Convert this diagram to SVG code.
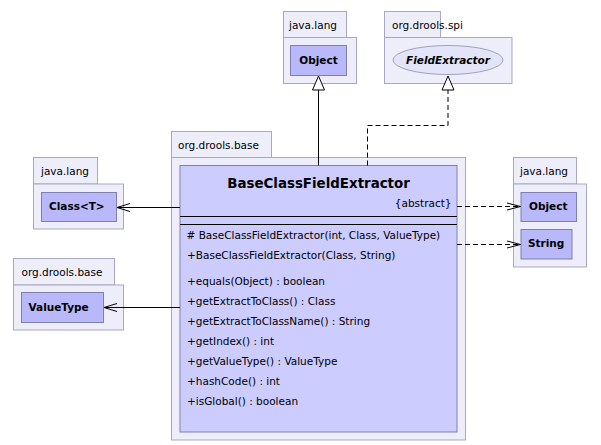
<svg xmlns="http://www.w3.org/2000/svg" width="601" height="445" viewBox="0 0 601 445">
<style>
.pkg{fill:#eeeefb;stroke:#a8a8c4;stroke-width:1}
.box{fill:#b8b8fa;stroke:#8080b0;stroke-width:1}
.main{fill:#ccccff;stroke:#8080b0;stroke-width:1}
.ell{fill:#e4e4f8;stroke:#a0a0c4;stroke-width:1}
.pl{font-family:"DejaVu Sans",sans-serif;font-size:10.5px;fill:#000}
.bl{font-family:"DejaVu Sans",sans-serif;font-size:10.5px;font-weight:bold;fill:#000}
.m{font-family:"DejaVu Sans",sans-serif;font-size:10.5px;fill:#000}
.t{font-family:"DejaVu Sans",sans-serif;font-size:13.4px;font-weight:bold;fill:#000}
.c{fill:none;stroke:#000;stroke-width:1}
.d{fill:none;stroke:#000;stroke-width:1;stroke-dasharray:5,3}
.tri{fill:#fff;stroke:#000;stroke-width:1}
</style>
<g id="pkg-java-lang-top">
<rect class="pkg" x="283.5" y="11.5" width="63" height="26.5"/>
<rect class="pkg" x="283.5" y="37.5" width="73" height="46"/>
<text class="pl" x="289" y="29">java.lang</text>
</g>
<g id="Object-top">
<rect class="box" x="290.5" y="45.5" width="56" height="30"/>
<text class="bl" x="318.5" y="64" text-anchor="middle">Object</text>
</g>
<g id="pkg-org-drools-spi">
<rect class="pkg" x="384.5" y="11.5" width="56" height="26.5"/>
<rect class="pkg" x="384.5" y="37.5" width="127.5" height="46"/>
<text class="pl" x="392" y="29">org.drools.spi</text>
</g>
<g id="FieldExtractor">
<ellipse class="ell" cx="448" cy="60" rx="55" ry="14.5"/>
<text class="bl" x="448" y="63.5" text-anchor="middle" font-style="italic">FieldExtractor</text>
</g>
<g id="pkg-java-lang-left">
<rect class="pkg" x="33.5" y="157.5" width="64" height="26.5"/>
<rect class="pkg" x="33.5" y="184" width="90" height="45"/>
<text class="pl" x="41" y="175">java.lang</text>
</g>
<g id="Class">
<rect class="box" x="41.5" y="192.5" width="75" height="29"/>
<text class="bl" x="49" y="210">Class&lt;T&gt;</text>
</g>
<g id="pkg-org-drools-base-left">
<rect class="pkg" x="13.5" y="258.5" width="101" height="26.5"/>
<rect class="pkg" x="13.5" y="285" width="110" height="45"/>
<text class="pl" x="21.5" y="276">org.drools.base</text>
</g>
<g id="ValueType">
<rect class="box" x="21.5" y="292.5" width="82" height="30"/>
<text class="bl" x="28.5" y="311">ValueType</text>
</g>
<g id="pkg-java-lang-right">
<rect class="pkg" x="513.5" y="157.5" width="63" height="26.5"/>
<rect class="pkg" x="513.5" y="184" width="73" height="83"/>
<text class="pl" x="520" y="175">java.lang</text>
</g>
<g id="Object-right">
<rect class="box" x="521" y="192.5" width="55.5" height="29"/>
<text class="bl" x="529" y="210">Object</text>
</g>
<g id="String">
<rect class="box" x="521" y="229.5" width="51" height="29.5"/>
<text class="bl" x="528" y="247">String</text>
</g>
<g id="pkg-org-drools-base-main">
<rect class="pkg" x="171.5" y="131.5" width="100" height="26"/>
<rect class="pkg" x="171.5" y="157.5" width="294" height="282.5"/>
<text class="pl" x="178" y="149">org.drools.base</text>
</g>
<g id="BaseClassFieldExtractor">
<rect class="main" x="180" y="165.5" width="277" height="266.5"/>
<text class="t" x="318.5" y="188" text-anchor="middle">BaseClassFieldExtractor</text>
<text class="m" x="451.5" y="207" text-anchor="end">{abstract}</text>
<line class="c" x1="180" y1="216.5" x2="457" y2="216.5"/>
<line class="c" x1="180" y1="224.5" x2="457" y2="224.5"/>
<text class="m" x="186.5" y="239"># BaseClassFieldExtractor(int, Class, ValueType)</text>
<text class="m" x="187" y="259">+BaseClassFieldExtractor(Class, String)</text>
<text class="m" x="187" y="285">+equals(Object) : boolean</text>
<text class="m" x="187" y="305">+getExtractToClass() : Class</text>
<text class="m" x="187" y="325">+getExtractToClassName() : String</text>
<text class="m" x="187" y="345">+getIndex() : int</text>
<text class="m" x="187" y="365">+getValueType() : ValueType</text>
<text class="m" x="187" y="385">+hashCode() : int</text>
<text class="m" x="187" y="405">+isGlobal() : boolean</text>
</g>
<g id="connectors">
<line class="c" x1="318.5" y1="165.5" x2="318.5" y2="90"/>
<polygon class="tri" points="318.5,76 312.5,90 324.5,90"/>
<polyline class="d" points="367.5,165.5 367.5,125.5 448,125.5 448,90"/>
<polygon class="tri" points="448,76 442,90 454,90"/>
<line class="c" x1="180" y1="207.5" x2="117" y2="207.5"/>
<polyline class="c" points="130,203.5 117,207.5 130,211.5"/>
<line class="c" x1="180" y1="307.5" x2="104" y2="307.5"/>
<polyline class="c" points="117,303.5 104,307.5 117,311.5"/>
<line class="d" x1="457" y1="206.5" x2="520" y2="206.5"/>
<polyline class="c" points="507,203 520.5,206.5 507,210"/>
<line class="d" x1="457" y1="244.5" x2="520" y2="244.5"/>
<polyline class="c" points="507,241 520.5,244.5 507,248"/>
</g>
</svg>
